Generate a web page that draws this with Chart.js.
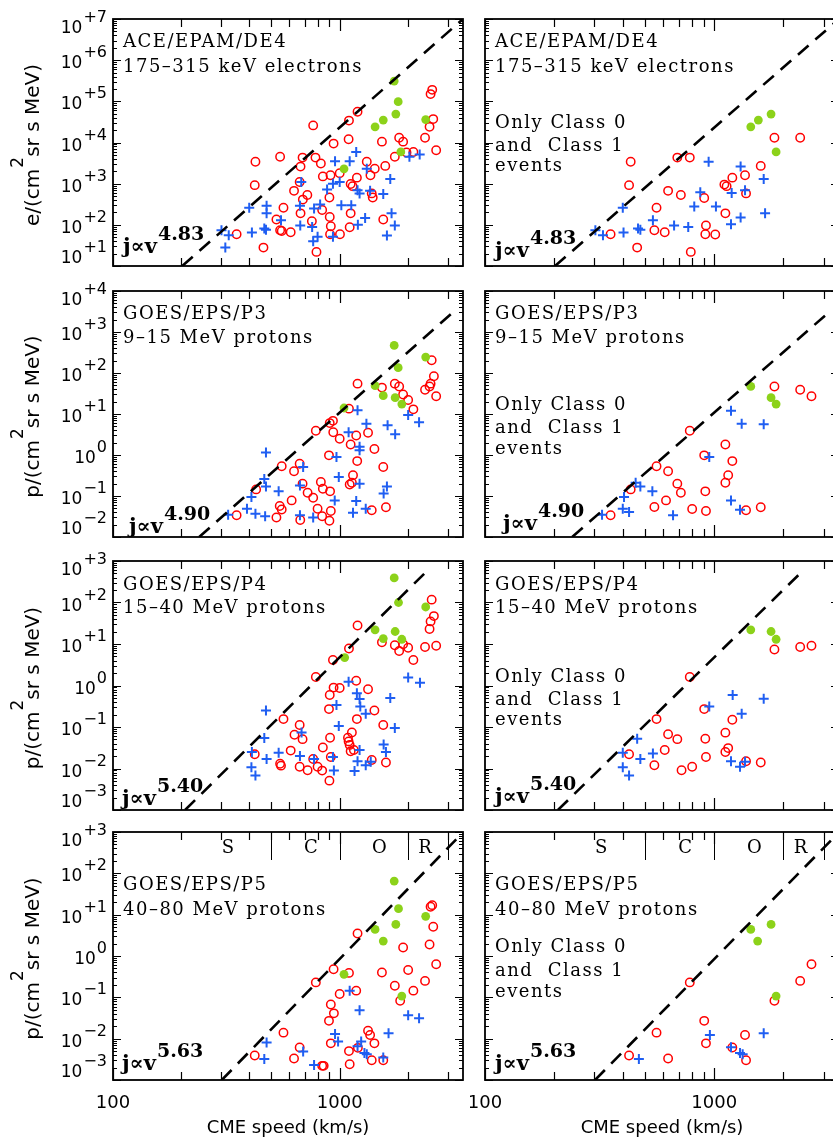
<!DOCTYPE html>
<html lang="en">
<head>
<meta charset="UTF-8" />
<title>SEP peak intensity vs CME speed</title>
<script src="https://cdn.jsdelivr.net/npm/chart.js@4.4.1/dist/chart.umd.min.js"></script>
<style>
  html, body { margin: 0; padding: 0; background: #fff; }
  body { width: 833px; height: 1139px; overflow: hidden; position: relative; }
  canvas { position: absolute; }
</style>
</head>
<body>
<script>
// ---- data: [CME speed km/s, peak intensity] ----
// row 1: ACE/EPAM/DE4, all events
const de4AllCircles = [[425,3400],[422,920],[546,4500],[764,26000],[565,260],[526,135],[546,74],[555,71],[608,66],[461,28],[351,59],[629,670],[666,1100],[672,2600],[686,4300],[720,530],[688,410],[672,190],[754,122],[782,4300],[826,3100],[843,1500],[837,230],[904,155],[914,92],[901,460],[911,1600],[940,9400],[1000,1800],[907,59],[1003,59],[790,22],[1099,34000],[1199,56000],[1095,12000],[1118,980],[1140,870],[1118,190],[1107,87],[1191,1400],[1317,3400],[1367,1600],[1428,2300],[1385,580],[1399,460],[1536,10500],[1589,2700],[1751,4500],[1830,13000],[1905,10500],[1972,5700],[2114,5900],[2380,13000],[2492,24000],[2518,150000],[2560,190000],[2587,37000],[2665,6500],[1557,135]];
const de4AllCrosses = [[301,74],[324,56],[313,28],[410,65],[399,260],[476,290],[476,190],[465,82],[473,76],[551,129],[668,290],[677,1100],[670,96],[756,89],[764,40],[799,51],[771,250],[820,310],[880,720],[954,3500],[934,1000],[1000,1100],[1017,300],[934,51],[1107,3500],[1125,300],[1183,5900],[1199,690],[1224,580],[1203,101],[1317,2300],[1295,147],[1362,670],[1557,560],[1672,1300],[1694,190],[1751,97],[1616,55],[2031,4500],[2254,5100]];
const de4AllDots = [[1740,310000],[1812,98000],[1769,49000],[1557,35000],[1433,24000],[2396,36000],[1861,5900],[1045,2300]];
// row 1: class 0 and 1 only
const de4ClassCircles = [[432,3400],[425,920],[690,4300],[782,4300],[560,260],[629,670],[715,530],[548,74],[608,66],[461,28],[353,59],[904,450],[920,97],[914,59],[1010,58],[790,22],[1118,190],[1107,950],[1132,870],[1199,1400],[1362,1600],[1376,580],[1595,2700],[1830,13000],[2370,13000]];
const de4ClassCrosses = [[303,74],[327,56],[402,65],[399,260],[465,81],[476,76],[540,129],[668,96],[770,89],[818,280],[869,620],[945,3400],[1017,280],[1183,103],[1191,590],[1303,2600],[1303,150],[1362,690],[1643,1300],[1666,190]];
const de4ClassDots = [[1443,24000],[1557,35000],[1769,49000],[1861,5900]];

// row 2: GOES/EPS/P3
const p3AllCircles = [[351,0.034],[428,0.145],[555,0.53],[544,0.057],[555,0.047],[526,0.030],[614,0.078],[629,0.40],[666,0.61],[686,0.20],[670,0.026],[722,0.12],[764,0.091],[785,3.9],[799,0.049],[826,0.22],[843,0.15],[837,0.032],[907,0.13],[914,0.043],[901,0.025],[897,0.98],[904,6.0],[934,6.8],[937,3.6],[1000,2.5],[1099,13.5],[1118,1.8],[1183,3.0],[1199,55],[1195,0.71],[1145,0.32],[1107,0.19],[1132,0.21],[1334,3.5],[1423,1.4],[1385,0.045],[1536,44],[1557,0.51],[1600,0.053],[1751,55],[1830,47],[1905,30],[2005,22],[2114,13],[2380,39],[2492,47],[2518,55],[2546,204],[2604,83],[2665,27]];
const p3AllCrosses = [[322,0.035],[390,0.049],[408,0.095],[425,0.037],[473,1.15],[465,0.26],[473,0.17],[469,0.032],[538,0.13],[668,0.18],[690,0.51],[668,0.034],[764,0.030],[951,0.078],[968,0.89],[991,0.29],[1095,3.6],[1199,12.3],[1224,1.6],[1224,1.3],[1224,0.20],[1183,0.076],[1145,0.039],[1312,5.8],[1303,0.049],[1563,0.115],[1616,0.17],[1627,5.3],[1757,3.2],[2005,9.5],[2240,6.3]];
const p3AllDots = [[1740,470],[2396,245],[1812,135],[1433,49],[1557,28],[1757,25],[1880,17.5],[1045,14]];
const p3ClassCircles = [[353,0.034],[432,0.145],[560,0.53],[629,0.40],[690,0.20],[715,0.12],[616,0.078],[548,0.054],[801,0.048],[920,0.043],[914,0.13],[904,0.98],[782,3.9],[1118,1.8],[1199,0.71],[1150,0.32],[1118,0.21],[1376,0.045],[1595,0.053],[1830,47],[2370,39],[2655,27]];
const p3ClassCrosses = [[324,0.035],[399,0.049],[404,0.095],[425,0.041],[454,0.21],[476,0.17],[537,0.13],[661,0.034],[951,0.89],[1183,12],[1317,5.8],[1643,5.6],[1183,0.078],[1295,0.046]];
const p3ClassDots = [[1443,47],[1769,25],[1861,17.5]];

// row 3: GOES/EPS/P4
const p4AllCircles = [[422,0.022],[565,0.155],[546,0.013],[551,0.0117],[608,0.027],[632,0.065],[666,0.112],[686,0.051],[666,0.011],[722,0.0091],[785,1.6],[764,0.017],[799,0.011],[843,0.032],[837,0.0089],[907,0.055],[914,0.019],[901,0.0051],[897,0.27],[940,0.89],[934,4.1],[904,0.59],[1000,0.87],[1099,7.8],[1199,28],[1183,1.3],[1191,0.155],[1334,0.81],[1423,0.25],[1385,0.016],[1088,0.055],[1095,0.045],[1107,0.037],[1132,0.074],[1118,0.026],[1155,0.028],[1536,11],[1557,0.112],[1600,0.014],[1751,9.3],[1830,6.8],[1905,9.8],[2005,8.1],[2114,4.1],[2380,8.5],[2492,23],[2518,35],[2546,117],[2604,47],[2665,9.1]];
const p4AllCrosses = [[408,0.0107],[425,0.0068],[410,0.025],[465,0.054],[473,0.25],[476,0.017],[538,0.024],[668,0.020],[679,0.074],[771,0.017],[934,0.019],[943,0.0089],[968,0.34],[991,0.105],[1095,1.23],[1191,0.65],[1224,0.47],[1233,0.31],[1303,0.21],[1224,0.028],[1199,0.015],[1163,0.0087],[1303,0.012],[1371,0.0145],[1563,0.038],[1600,0.025],[1751,0.095],[1672,0.50],[2005,1.55],[2261,1.16]];
const p4AllDots = [[1740,390],[1818,100],[2396,78],[1433,22],[1557,13.5],[1757,20],[1880,13],[1052,4.7]];
const p4ClassCircles = [[425,0.022],[560,0.155],[548,0.012],[629,0.067],[690,0.051],[608,0.028],[720,0.0091],[801,0.011],[782,1.6],[904,0.27],[914,0.052],[920,0.019],[1118,0.073],[1150,0.031],[1118,0.025],[1199,0.15],[1376,0.015],[1595,0.014],[1830,7.4],[2370,8.5],[2655,9.1]];
const p4ClassCrosses = [[399,0.024],[399,0.0107],[425,0.0068],[461,0.052],[476,0.017],[540,0.023],[951,0.31],[1203,0.59],[1317,0.21],[1643,0.48],[1183,0.015],[1295,0.011],[1362,0.0145]];
const p4ClassDots = [[1443,22],[1769,20],[1861,13]];

// row 4: GOES/EPS/P5
const p5AllCircles = [[422,0.0039],[565,0.014],[629,0.0033],[666,0.0061],[785,0.23],[837,0.0022],[850,0.0022],[914,0.0077],[897,0.027],[943,0.041],[914,0.067],[940,0.48],[1000,0.12],[1099,0.39],[1199,3.5],[1183,0.145],[1099,0.005],[1107,0.0024],[1203,0.006],[1334,0.0155],[1362,0.0123],[1423,0.0077],[1385,0.003],[1557,0.003],[1536,0.40],[1751,0.19],[1849,0.083],[1905,1.6],[2005,0.46],[2114,0.145],[2380,0.25],[2492,1.9],[2518,15.5],[2560,17],[2587,5.1],[2665,0.63]];
const p5AllCrosses = [[476,0.0081],[465,0.0032],[690,0.0049],[771,0.0023],[954,0.0129],[984,0.0085],[1107,0.145],[1224,0.049],[1199,0.0066],[1244,0.0085],[1286,0.0045],[1317,0.0042],[1557,0.0035],[1643,0.0135],[2005,0.037],[2240,0.031]];
const p5AllDots = [[1740,65],[1818,14],[1769,5.8],[1433,4.4],[1557,2.3],[2396,9.1],[1880,0.107],[1045,0.36]];
const p5ClassCircles = [[425,0.0039],[560,0.014],[629,0.0033],[782,0.23],[904,0.027],[920,0.0077],[1199,0.0061],[1362,0.0123],[1376,0.003],[1830,0.083],[2370,0.25],[2655,0.63]];
const p5ClassCrosses = [[469,0.0032],[957,0.0123],[1183,0.0062],[1295,0.0045],[1330,0.0042],[1643,0.0135]];
const p5ClassDots = [[1443,4.4],[1546,2.3],[1769,5.8],[1861,0.107]];

// power-law fits (end points of the dashed lines)
const fitDE4 = [[202,10],[3500,1e7]];
const fitP3 = [[240,0.01],[3110,2800]];
const fitP4 = [[208,0.001],[2470,630]];
const fitP5 = [[302,0.001],[3440,890]];
const fitIndex = ['4.83', '4.90', '5.40', '5.63'];

// axes
const decadesDE4 = [1, 2, 3, 4, 5, 6, 7];
const decadesP3 = [-2, -1, 0, 1, 2, 3, 4];
const decadesP4 = [-3, -2, -1, 0, 1, 2, 3];
const decadesP5 = [-3, -2, -1, 0, 1, 2, 3];
const xMajor = [100, 1000];
const xMinor = [200, 300, 400, 500, 600, 700, 800, 900, 2000, 3000];
const xTitle = 'CME speed (km/s)';

// speed classes on the bottom row
const classBounds = [500, 1000, 2000, 3000];
const classNames = ['S', 'C', 'O', 'R'];
const classLabelAt = [321, 747, 1496, 2377];

const rows = [
  { unit: 'e', decades: decadesDE4, fit: fitDE4, lines: ['ACE/EPAM/DE4', '175\u2013315 keV electrons'],
    all: [de4AllCircles, de4AllCrosses, de4AllDots], cls: [de4ClassCircles, de4ClassCrosses, de4ClassDots],
    top: 0, h: 279, pt: 19, pb: 13, textY: [28, 53], noteY: [109, 132, 152],
    j: [[10, -13], [10, -9]] },
  { unit: 'p', decades: decadesP3, fit: fitP3, lines: ['GOES/EPS/P3', '9\u201315 MeV protons'],
    all: [p3AllCircles, p3AllCrosses, p3AllDots], cls: [p3ClassCircles, p3ClassCrosses, p3ClassDots],
    top: 279, h: 270, pt: 12, pb: 12, textY: [28, 52], noteY: [119, 142, 163],
    j: [[16, -4], [18, -7]] },
  { unit: 'p', decades: decadesP4, fit: fitP4, lines: ['GOES/EPS/P4', '15\u201340 MeV protons'],
    all: [p4AllCircles, p4AllCrosses, p4AllDots], cls: [p4ClassCircles, p4ClassCrosses, p4ClassDots],
    top: 549, h: 272, pt: 12, pb: 11, textY: [29, 52], noteY: [121, 144, 164],
    j: [[9, -5], [10, -7]] },
  { unit: 'p', decades: decadesP5, fit: fitP5, lines: ['GOES/EPS/P5', '40\u201380 MeV protons'],
    all: [p5AllCircles, p5AllCrosses, p5AllDots], cls: [p5ClassCircles, p5ClassCrosses, p5ClassDots],
    top: 821, h: 318, pt: 11, pb: 59, textY: [58, 83], noteY: [120, 144, 165],
    j: [[9, -10], [10, -10]] }
];
const cols = [
  { left: 0, w: 470, pl: 113, pr: 3 },
  { left: 470, w: 380, pl: 15, pr: 11 }
];
const note = ['Only Class 0', 'and  Class 1', 'events'];

const SANS = '"DejaVu Sans", sans-serif';
const SERIF = '"DejaVu Serif", serif';

function expText(d) {
  if (d > 0) return '+' + d;
  if (d < 0) return '\u2212' + (-d);
  return '0';
}

const framePlugin = {
  id: 'frame',
  afterDraw(chart, args, o) {
    const ctx = chart.ctx;
    const a = chart.chartArea;
    const xs = chart.scales.x, ys = chart.scales.y;
    ctx.save();
    ctx.strokeStyle = '#000';
    ctx.fillStyle = '#000';

    // ticks (inward, all four sides)
    ctx.lineWidth = 1.2;
    ctx.beginPath();
    o.decades.forEach(d => {
      for (let k = 1; k < 10; k++) {
        const v = k * Math.pow(10, d);
        if (v > ys.max * 1.0001) break;
        const y = Math.round(ys.getPixelForValue(v)) + 0.5;
        const len = k === 1 ? 8 : 4;
        ctx.moveTo(a.left, y); ctx.lineTo(a.left + len, y);
        ctx.moveTo(a.right, y); ctx.lineTo(a.right - len, y);
      }
    });
    xMajor.concat(xMinor).forEach(v => {
      const x = Math.round(xs.getPixelForValue(v)) + 0.5;
      const len = xMajor.includes(v) ? 12 : 8;
      ctx.moveTo(x, a.bottom); ctx.lineTo(x, a.bottom - len);
      ctx.moveTo(x, a.top); ctx.lineTo(x, a.top + len);
    });
    ctx.stroke();

    ctx.lineWidth = 1.8;
    ctx.strokeRect(a.left, a.top, a.right - a.left, a.bottom - a.top);

    // y tick labels and title on the left column
    if (o.col === 0) {
      const xr = a.left - 6;
      o.decades.forEach((d, i) => {
        const y = ys.getPixelForValue(Math.pow(10, d));
        const shift = i === 0 ? -3 : (i === o.decades.length - 1 ? 14 : 8);
        const e = expText(d);
        ctx.font = '16px ' + SANS;
        ctx.textAlign = 'left';
        const ew = ctx.measureText(e).width;
        ctx.fillText(e, xr - ew, y + shift - 11);
        ctx.font = '17px ' + SANS;
        ctx.textAlign = 'right';
        ctx.fillText('10', xr - ew - 1, y + shift);
      });

      ctx.save();
      ctx.translate(39, (a.top + a.bottom) / 2 + 3);
      ctx.rotate(-Math.PI / 2);
      ctx.textAlign = 'left';
      const p1 = o.unit + '/(cm', p2 = '2', p3 = 'sr s MeV)';
      ctx.font = '20px ' + SANS;
      const w1 = ctx.measureText(p1).width, w3 = ctx.measureText(p3).width;
      ctx.font = '17px ' + SANS;
      const w2 = ctx.measureText(p2).width;
      const x0 = -(w1 + w2 + w3) / 2;
      ctx.font = '20px ' + SANS;
      ctx.fillText(p1, x0, 0);
      ctx.fillText(p3, x0 + w1 + w2 + 1, 0);
      ctx.font = '17px ' + SANS;
      ctx.fillText(p2, x0 + w1 + 1, -16);
      ctx.restore();
    }

    // x labels on the bottom row
    if (o.bottom) {
      ctx.font = '18px ' + SANS;
      ctx.textAlign = 'center';
      xMajor.forEach(v => ctx.fillText(String(v), xs.getPixelForValue(v), a.bottom + 28));
      ctx.fillText(xTitle, (a.left + a.right) / 2, a.bottom + 53);

      // speed classes
      ctx.lineWidth = 1;
      ctx.beginPath();
      classBounds.forEach(v => {
        const x = Math.round(xs.getPixelForValue(v)) + 0.5;
        ctx.moveTo(x, a.top); ctx.lineTo(x, a.top + 28);
      });
      ctx.stroke();
      ctx.font = '18px ' + SERIF;
      classNames.forEach((n, i) => ctx.fillText(n, xs.getPixelForValue(classLabelAt[i]), a.top + 21));
    }

    // panel labels
    ctx.textAlign = 'left';
    ctx.font = '18px ' + SERIF;
    ctx.letterSpacing = '1.5px';
    o.lines.forEach((t, i) => ctx.fillText(t, a.left + 10, a.top + o.textY[i]));
    if (o.col === 1) {
      note.forEach((t, i) => ctx.fillText(t, a.left + 10, a.top + o.noteY[i]));
    }
    ctx.letterSpacing = '0px';

    // power law label
    ctx.font = 'bold 21px ' + SERIF;
    const jx = a.left + o.j[0], jy = a.bottom + o.j[1];
    ctx.fillText('j\u221dv', jx, jy);
    const jw = ctx.measureText('j\u221dv').width;
    ctx.font = 'bold 19px ' + SERIF;
    ctx.fillText(o.index, jx + jw + 1, jy - 13);

    ctx.restore();
  }
};

function pts(arr) {
  return arr.map(p => ({ x: p[0], y: p[1] }));
}

rows.forEach((r, ri) => {
  cols.forEach((c, ci) => {
    const cv = document.createElement('canvas');
    cv.width = c.w;
    cv.height = r.h;
    cv.style.left = c.left + 'px';
    cv.style.top = r.top + 'px';
    document.body.appendChild(cv);
    const set = ci === 0 ? r.all : r.cls;
    new Chart(cv, {
      type: 'scatter',
      data: {
        datasets: [
          { data: pts(r.fit), showLine: true, borderColor: '#000', borderWidth: 2.6,
            borderDash: [14, 9], pointRadius: 0, fill: false },
          { data: pts(set[2]), pointStyle: 'circle', pointRadius: 4.4,
            backgroundColor: '#8cd21a', borderColor: '#8cd21a', borderWidth: 0 },
          { data: pts(set[1]), pointStyle: 'cross', pointRadius: 5,
            borderColor: '#1f5ef2', borderWidth: 2 },
          { data: pts(set[0]), pointStyle: 'circle', pointRadius: 4.2,
            backgroundColor: 'rgba(0,0,0,0)', borderColor: '#ff0000', borderWidth: 1.5 }
        ]
      },
      options: {
        responsive: false,
        animation: false,
        events: [],
        layout: { padding: { left: c.pl, right: c.pr, top: r.pt, bottom: r.pb } },
        scales: {
          x: { type: 'logarithmic', min: 100, max: 3500, display: false },
          y: { type: 'logarithmic', min: Math.pow(10, r.decades[0]),
               max: Math.pow(10, r.decades[r.decades.length - 1]), display: false }
        },
        plugins: {
          legend: { display: false },
          tooltip: { enabled: false },
          frame: {
            col: ci, bottom: ri === rows.length - 1, unit: r.unit, decades: r.decades,
            lines: r.lines, textY: r.textY, noteY: r.noteY, j: r.j[ci], index: fitIndex[ri]
          }
        }
      },
      plugins: [framePlugin]
    });
  });
});
</script>
</body>
</html>
